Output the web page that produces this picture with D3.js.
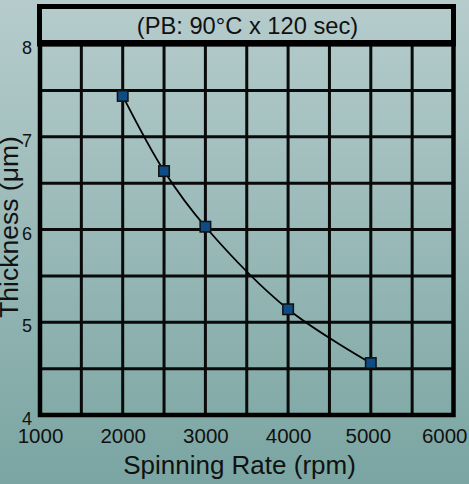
<!DOCTYPE html>
<html>
<head>
<meta charset="utf-8">
<script src="https://cdn.jsdelivr.net/npm/d3@7"></script>
<style>
html,body{margin:0;padding:0;overflow:hidden;}
svg{display:block;font-family:"Liberation Sans",Arial,sans-serif;}
</style>
</head>
<body>
<svg id="chart" width="469" height="484"></svg>
<script>
const spinRates = [2000, 2500, 3000, 4000, 5000];
const thickness = [7.44, 6.63, 6.03, 5.14, 4.56];
const xTicks = [1000, 2000, 3000, 4000, 5000, 6000];
const yTicks = [4, 5, 6, 7, 8];
const xGrid = [1500, 2000, 2500, 3000, 3500, 4000, 4500, 5000, 5500];
const yGrid = [4.5, 5, 5.5, 6, 6.5, 7, 7.5];
const titleText = "(PB: 90°C x 120 sec)";
const xTitle = "Spinning Rate (rpm)";
const yTitle = "Thickness (μm)";

const W = 469, H = 484;
const svg = d3.select("#chart");
const defs = svg.append("defs");
const grad = defs.append("linearGradient").attr("id","bg").attr("x1",0).attr("y1",0).attr("x2",0).attr("y2",1);
grad.append("stop").attr("offset","0%").attr("stop-color","#b6cccc");
grad.append("stop").attr("offset","100%").attr("stop-color","#7aa5a2");
svg.append("rect").attr("width",W).attr("height",H).attr("fill","url(#bg)");

const x = d3.scaleLinear().domain([1000, 6000]).range([40, 453.5]);
const y = d3.scaleLinear().domain([4, 8]).range([415, 44]);

// grid
svg.append("g").selectAll("line").data(xGrid).join("line")
  .attr("x1", d => x(d)).attr("x2", d => x(d))
  .attr("y1", y(8)).attr("y2", y(4))
  .attr("stroke", "#0a0a0a").attr("stroke-width", 3);
svg.append("g").selectAll("line").data(yGrid).join("line")
  .attr("y1", d => y(d)).attr("y2", d => y(d))
  .attr("x1", x(1000)).attr("x2", x(6000))
  .attr("stroke", "#0a0a0a").attr("stroke-width", 3);

// title box
svg.append("rect").attr("x", 39.5).attr("y", 6.5).attr("width", 414).attr("height", 37)
  .attr("fill", "none").attr("stroke", "#000").attr("stroke-width", 5);
svg.append("line").attr("x1", 37).attr("x2", 456).attr("y1", 43.3).attr("y2", 43.3)
  .attr("stroke", "#000").attr("stroke-width", 6.6);
svg.append("text").attr("x", 247.5).attr("y", 33.5).attr("text-anchor", "middle")
  .attr("font-size", 23.7).attr("fill", "#111").text(titleText);

// plot border
svg.append("rect").attr("x", x(1000)).attr("y", y(8)).attr("width", x(6000) - x(1000)).attr("height", y(4) - y(8))
  .attr("fill", "none").attr("stroke", "#000").attr("stroke-width", 4.5);

// axes labels via d3 axes
const xAxis = svg.append("g").attr("transform", `translate(0,${y(4)})`)
  .call(d3.axisBottom(x).tickValues(xTicks).tickSize(0).tickPadding(0).tickFormat(d3.format("d")));
xAxis.select(".domain").remove();
xAxis.selectAll("text").attr("font-size", 20.5).attr("fill", "#111")
  .attr("font-family", "Liberation Sans, Arial, sans-serif")
  .attr("dy", null).attr("y", 28);
xAxis.selectAll(".tick").filter(d => d === 6000).select("text")
  .attr("text-anchor", "end").attr("x", 13.5);
xAxis.selectAll(".tick").filter(d => d === 5000).select("text").attr("x", -3);

const yAxis = svg.append("g").attr("transform", `translate(32,0)`)
  .call(d3.axisLeft(y).tickValues(yTicks).tickSize(0).tickPadding(0).tickFormat(d3.format("d")));
yAxis.select(".domain").remove();
yAxis.selectAll("text").attr("font-size", 18).attr("fill", "#111")
  .attr("font-family", "Liberation Sans, Arial, sans-serif")
  .attr("dy", null).attr("y", 9.5).attr("x", 0);

// axis titles
svg.append("text").attr("x", 239.5).attr("y", 474).attr("text-anchor", "middle")
  .attr("font-size", 26).attr("fill", "#111").text(xTitle);
svg.append("text").attr("transform", "translate(18,227) rotate(-90)").attr("text-anchor", "middle")
  .attr("font-size", 26.5).attr("fill", "#111").text(yTitle);

// curve
const pts = spinRates.map((r, i) => [r, thickness[i]]);
const line = d3.line().x(d => x(d[0])).y(d => y(d[1])).curve(d3.curveCatmullRom.alpha(0.5));
svg.append("path").datum(pts).attr("d", line).attr("fill", "none")
  .attr("stroke", "#000").attr("stroke-width", 1.8);

// markers
const s = 10.5;
svg.append("g").selectAll("rect").data(pts).join("rect")
  .attr("x", d => x(d[0]) - s / 2).attr("y", d => y(d[1]) - s / 2)
  .attr("width", s).attr("height", s)
  .attr("fill", "#0f4c84").attr("stroke", "#111").attr("stroke-width", 1.5);
</script>
</body>
</html>
